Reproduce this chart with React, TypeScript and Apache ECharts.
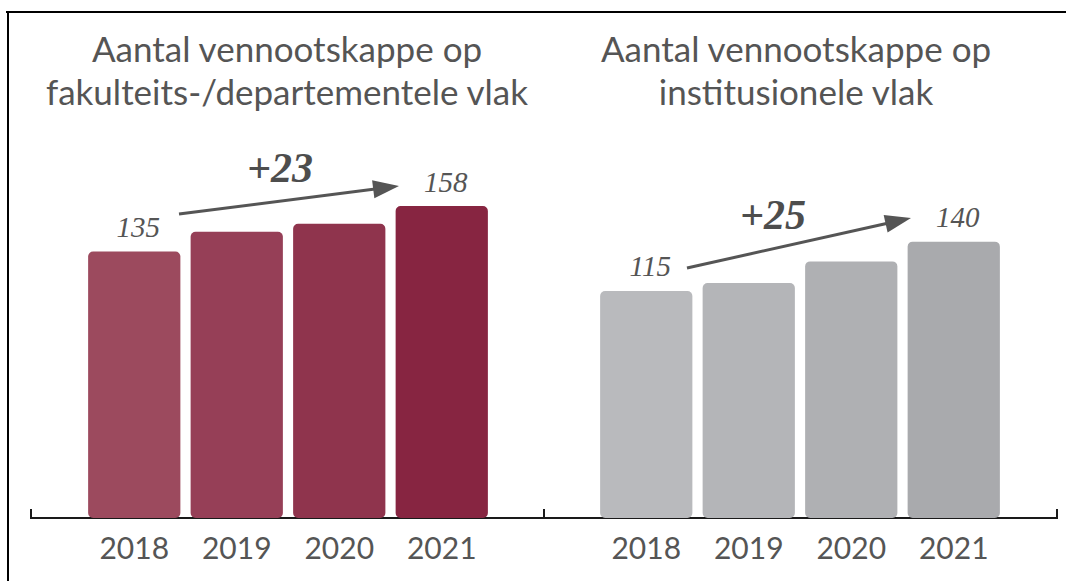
import React, { useEffect, useRef } from "react";
import * as echarts from "echarts";

const years = ["2018", "2019", "2020", "2021"];
const facultyValues = [135, 145, 149, 158];
const institutionValues = [115, 119, 130, 140];
const facultyColors = ["#9c4a5e", "#963f57", "#8f344d", "#872541"];
const institutionColors = ["#b9babd", "#b4b5b8", "#afb0b3", "#a9aaad"];
const facultyTitle = ["Aantal vennootskappe op", "fakulteits-/departementele vlak"];
const institutionTitle = ["Aantal vennootskappe op", "institusionele vlak"];
const changes = ["+23", "+25"];

const TEXT = "#555555";

function arrow(x1: number, y1: number, x2: number, y2: number) {
  const dx = x2 - x1, dy = y2 - y1;
  const len = Math.sqrt(dx * dx + dy * dy);
  const ux = dx / len, uy = dy / len;
  const hl = 26, hw = 9;
  const bx = x2 - ux * hl, by = y2 - uy * hl;
  return [
    { type: "line", shape: { x1, y1, x2: bx + ux * 2, y2: by + uy * 2 }, style: { stroke: TEXT, lineWidth: 3 } },
    {
      type: "polygon",
      shape: { points: [[x2, y2], [bx - uy * hw, by + ux * hw], [bx + uy * hw, by - ux * hw]] },
      style: { fill: TEXT },
    },
  ];
}

function barData(values: number[], colors: string[]) {
  return values.map((v, i) => ({
    value: v,
    itemStyle: { color: colors[i], borderRadius: 5 },
    label: { show: i === 0 || i === values.length - 1 },
  }));
}

export default function App() {
  const ref = useRef<HTMLDivElement>(null);
  useEffect(() => {
    if (!ref.current) return;
    const chart = echarts.init(ref.current, undefined, { renderer: "svg" });
    const barLabel = {
      position: "top",
      distance: 10,
      offset: [4, 0],
      fontFamily: "Liberation Serif",
      fontStyle: "italic",
      fontSize: 29,
      color: TEXT,
    };
    const xAxisBase = {
      type: "category",
      data: years,
      axisLine: { show: false },
      axisTick: { show: false },
      axisLabel: { fontFamily: "Lato", fontSize: 30, color: TEXT, margin: 14 },
    };
    const yAxisBase = { type: "value", min: 0, max: 200, show: false, splitLine: { show: false } };
    const titleLine = (x: number, y: number, text: string) => ({
      type: "text",
      x,
      y,
      style: {
        text,
        fontFamily: "Lato",
        fontSize: 35,
        fill: TEXT,
        textAlign: "center",
        align: "center",
        textVerticalAlign: "middle",
        verticalAlign: "middle",
      },
    });
    const changeText = (x: number, y: number, text: string) => ({
      type: "text",
      x,
      y,
      style: {
        text,
        fontFamily: "Liberation Serif",
        fontStyle: "italic",
        fontWeight: "bold",
        fontSize: 42,
        fill: "#4d4d4d",
        textAlign: "center",
        align: "center",
        textVerticalAlign: "middle",
        verticalAlign: "middle",
      },
    });
    chart.setOption({
      animation: false,
      backgroundColor: "#ffffff",
      grid: [
        { left: 83, width: 410, top: 123.2, bottom: 63 },
        { left: 595, width: 410, top: 123.2, bottom: 63 },
      ],
      xAxis: [
        { ...xAxisBase, gridIndex: 0 },
        { ...xAxisBase, gridIndex: 1 },
      ],
      yAxis: [
        { ...yAxisBase, gridIndex: 0 },
        { ...yAxisBase, gridIndex: 1 },
      ],
      series: [
        {
          type: "bar",
          xAxisIndex: 0,
          yAxisIndex: 0,
          barWidth: "90%",
          data: barData(facultyValues, facultyColors),
          label: barLabel,
        },
        {
          type: "bar",
          xAxisIndex: 1,
          yAxisIndex: 1,
          barWidth: "90%",
          data: barData(institutionValues, institutionColors),
          label: barLabel,
        },
      ],
      graphic: [
        { type: "line", shape: { x1: 6, y1: 12, x2: 1066, y2: 12 }, style: { stroke: "#000", lineWidth: 2 } },
        { type: "line", shape: { x1: 8, y1: 11, x2: 8, y2: 581 }, style: { stroke: "#000", lineWidth: 2 } },
        {
          type: "polyline",
          shape: { points: [[31, 509], [31, 518], [1057, 518], [1057, 509]] },
          style: { stroke: "#1a1a1a", lineWidth: 2, fill: "none" },
          z: -1,
        },
        { type: "line", shape: { x1: 544, y1: 509, x2: 544, y2: 518 }, style: { stroke: "#1a1a1a", lineWidth: 2 }, z: -1 },
        titleLine(287, 48, facultyTitle[0]),
        titleLine(287, 91, facultyTitle[1]),
        titleLine(796, 48, institutionTitle[0]),
        titleLine(796, 91, institutionTitle[1]),
        changeText(280, 168, changes[0]),
        changeText(773, 215, changes[1]),
        ...arrow(179, 214, 399, 186),
        ...arrow(687, 268, 911, 218),
      ],
    });
    return () => chart.dispose();
  }, []);
  return (
    <div
      ref={ref}
      style={{ position: "fixed", left: 0, top: 0, width: 1066, height: 581 }}
    />
  );
}
